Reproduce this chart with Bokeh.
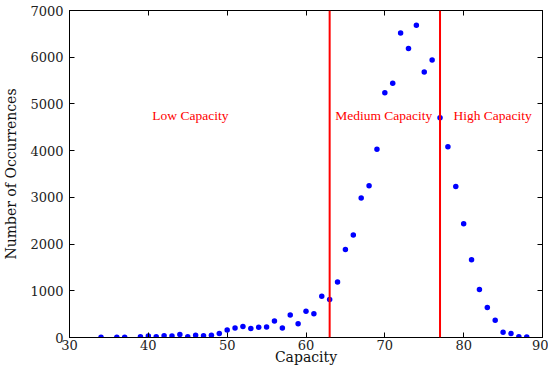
from bokeh.plotting import figure
from bokeh.models import Range1d, LinearAxis, Span, Label, FixedTicker
from bokeh.embed import file_html
from bokeh.resources import INLINE

capacity = [34, 36, 37, 39, 40, 41, 42, 43, 44, 45, 46, 47, 48, 49, 50, 51, 52, 53, 54,
            55, 56, 57, 58, 59, 60, 61, 62, 63, 64, 65, 66, 67, 68, 69, 70, 71, 72, 73,
            74, 75, 76, 77, 78, 79, 80, 81, 82, 83, 84, 85, 86, 87, 88]
occurrences = [5, 3, 3, 15, 30, 15, 36, 30, 64, 15, 50, 36, 50, 85, 163, 206, 233, 191, 220,
               227, 354, 206, 482, 297, 560, 509, 885, 815, 1188, 1882, 2193, 2985, 3246, 4030,
               5240, 5445, 6521, 6188, 6683, 5685, 5940, 4703, 4081, 3233, 2433, 1663, 1026,
               644, 368, 114, 85, 15, 10]
boundaries = [63, 77]
region_labels = ["Low Capacity", "Medium Capacity", "High Capacity"]
region_label_x = [40.5, 63.7, 78.7]
region_label_y = 4750
x_ticks = [30, 40, 50, 60, 70, 80, 90]
y_ticks = [0, 1000, 2000, 3000, 4000, 5000, 6000, 7000]

SERIF = "DejaVu Serif"
p = figure(width=548, height=367, output_backend="svg", toolbar_location=None,
           x_range=Range1d(30, 90), y_range=Range1d(0, 7000),
           min_border_left=68, min_border_right=6, min_border_top=10, min_border_bottom=10)
p.background_fill_color = "white"
p.border_fill_color = "white"
p.grid.visible = False
p.outline_line_color = "black"
p.outline_line_width = 1

for ax in (p.xaxis[0], p.yaxis[0]):
    ax.major_tick_in = 5
    ax.major_tick_out = 0
    ax.minor_tick_in = 0
    ax.minor_tick_out = 0
    ax.axis_line_color = "black"
    ax.major_tick_line_color = "black"
    ax.major_label_text_font = SERIF
    ax.major_label_text_font_size = "13px"
    ax.major_label_text_color = "#222222"
    ax.axis_label_text_font = SERIF
    ax.axis_label_text_font_size = "14px"
    ax.axis_label_text_font_style = "normal"
    ax.axis_label_text_color = "#111111"

p.xaxis[0].ticker = FixedTicker(ticks=x_ticks)
p.yaxis[0].ticker = FixedTicker(ticks=y_ticks)
p.xaxis[0].axis_label = "Capacity"
p.yaxis[0].axis_label = "Number of Occurrences"
p.xaxis[0].major_label_standoff = 2
p.xaxis[0].axis_label_standoff = -4
p.yaxis[0].major_label_standoff = 6
p.yaxis[0].axis_label_standoff = 8

top = LinearAxis(ticker=FixedTicker(ticks=x_ticks))
right = LinearAxis(ticker=FixedTicker(ticks=y_ticks))
for ax in (top, right):
    ax.major_tick_in = 5
    ax.major_tick_out = 0
    ax.minor_tick_in = 0
    ax.minor_tick_out = 0
    ax.major_label_text_font_size = "1px"
    ax.major_label_text_color = None
    ax.major_label_standoff = 0
    ax.axis_line_color = "black"
p.add_layout(top, "above")
p.add_layout(right, "right")

p.scatter(capacity, occurrences, size=5.5, color="blue", line_color=None)

for b in boundaries:
    p.add_layout(Span(location=b, dimension="height", line_color="red", line_width=2))

for t, xx in zip(region_labels, region_label_x):
    p.add_layout(Label(x=xx, y=region_label_y, text=t, text_color="red",
                       text_font="Liberation Serif", text_font_size="13.5px",
                       text_baseline="alphabetic", text_align="left"))

open("out.html", "w").write(file_html(p, INLINE))
